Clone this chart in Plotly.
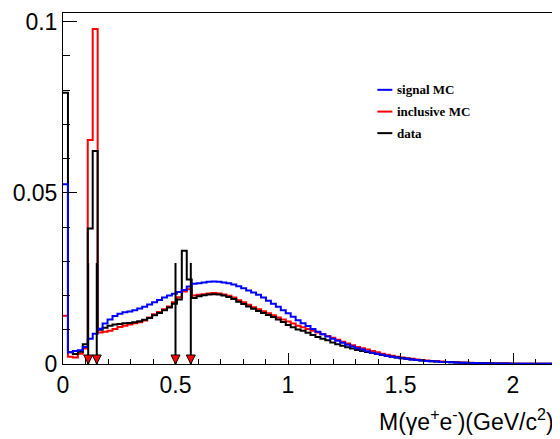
import plotly.graph_objects as go

# 100 bins of width 0.022 on [0, 2.2]
x_min, x_max, n_bins = 0.0, 2.2, 100

signal_mc = [
    0.0525, 0.0034, 0.0038, 0.0040, 0.0050, 0.0074, 0.0088, 0.0103, 0.0118, 0.0130,
    0.0140, 0.0147, 0.0151, 0.0153, 0.0157, 0.0162, 0.0167, 0.0174, 0.0180, 0.0187,
    0.0194, 0.0200, 0.0205, 0.0210, 0.0216, 0.0226, 0.0234, 0.0236, 0.0238, 0.0240,
    0.0241, 0.0240, 0.0238, 0.0236, 0.0232, 0.0227, 0.0221, 0.0215, 0.0209, 0.0202,
    0.0194, 0.0185, 0.0176, 0.0167, 0.0157, 0.0148, 0.0138, 0.0128, 0.0119, 0.0111,
    0.0102, 0.0094, 0.0087, 0.0080, 0.0074, 0.0068, 0.0062, 0.0056, 0.0051, 0.0046,
    0.0042, 0.0037, 0.0033, 0.0030, 0.0027, 0.0024, 0.0021, 0.0019, 0.0017, 0.0015,
    0.0013, 0.0012, 0.0010, 0.0009, 0.0008, 0.0007, 0.0006, 0.00055, 0.0005, 0.00045,
    0.0004, 0.00035, 0.0003, 0.00027, 0.00024, 0.0002, 0.00018, 0.00016, 0.00014, 0.00012,
    0.0001, 0.00009, 0.00008, 0.00007, 0.00006, 0.00005, 0.00005, 0.00004, 0.00004, 0.00003,
]

inclusive_mc = [
    0.0141, 0.0021, 0.0019, 0.0030, 0.0045, 0.0654, 0.0978, 0.0092, 0.0094, 0.0097,
    0.0102, 0.0108, 0.0112, 0.0115, 0.0119, 0.0122, 0.0127, 0.0136, 0.0145, 0.0152,
    0.0160, 0.0168, 0.0180, 0.0195, 0.0212, 0.0218, 0.0200, 0.0202, 0.0204, 0.0206,
    0.0207, 0.0206, 0.0203, 0.0199, 0.0194, 0.0186, 0.0180, 0.0173, 0.0166, 0.0160,
    0.0154, 0.0148, 0.0142, 0.0136, 0.0130, 0.0124, 0.0118, 0.0112, 0.0107, 0.0102,
    0.0097, 0.0092, 0.0087, 0.0082, 0.0077, 0.0071, 0.0065, 0.0060, 0.0055, 0.0050,
    0.0046, 0.0042, 0.0038, 0.0034, 0.0030, 0.0027, 0.0024, 0.0021, 0.0019, 0.0017,
    0.0015, 0.0013, 0.0012, 0.0010, 0.0009, 0.0008, 0.0007, 0.0006, 0.00055, 0.0005,
    0.00045, 0.0004, 0.00035, 0.0003, 0.00027, 0.00024, 0.0002, 0.00018, 0.00016, 0.00014,
    0.00012, 0.0001, 0.00009, 0.00008, 0.00007, 0.00006, 0.00005, 0.00005, 0.00004, 0.00004,
]

data = [
    0.0792, 0.0034, 0.0029, 0.0036, 0.0058, 0.0396, 0.0622, 0.0100, 0.0106, 0.0112,
    0.0115, 0.0117, 0.0119, 0.0120, 0.0122, 0.0125, 0.0129, 0.0134, 0.0142, 0.0149,
    0.0157, 0.0165, 0.0176, 0.0188, 0.0331, 0.0247, 0.0193, 0.0198, 0.0201, 0.0203,
    0.0204, 0.0203, 0.0200, 0.0196, 0.0190, 0.0182, 0.0175, 0.0168, 0.0161, 0.0155,
    0.0149, 0.0143, 0.0137, 0.0130, 0.0123, 0.0114, 0.0107, 0.0101, 0.0097, 0.0091,
    0.0085, 0.0079, 0.0074, 0.0069, 0.0063, 0.0058, 0.0053, 0.0049, 0.0045, 0.0041,
    0.0038, 0.0035, 0.0032, 0.0029, 0.0026, 0.0023, 0.0021, 0.0019, 0.0017, 0.0015,
    0.0013, 0.0012, 0.0010, 0.0009, 0.0008, 0.0007, 0.0006, 0.00055, 0.0005, 0.00045,
    0.0004, 0.00035, 0.0003, 0.00027, 0.00024, 0.0002, 0.00018, 0.00016, 0.00014, 0.00012,
    0.0001, 0.00009, 0.00008, 0.00007, 0.00006, 0.00005, 0.00005, 0.00004, 0.00004, 0.00003,
]

series_names = ["signal MC", "inclusive MC", "data"]
series_colors = ["#0000ff", "#ff0000", "#000000"]

cut_positions = [0.112, 0.150, 0.500, 0.568]
arrow_top = 0.0295

y_range = [0, 0.1025]
y_ticks = [0, 0.05, 0.1]
y_ticklabels = ["0", "0.05", "0.1"]
x_ticks = [0, 0.5, 1, 1.5, 2]
x_ticklabels = ["0", "0.5", "1", "1.5", "2"]
x_title = "M(γe<sup>+</sup>e<sup>-</sup>)(GeV/c<sup>2</sup>)"

bw = (x_max - x_min) / n_bins
edges = [x_min + i * bw for i in range(n_bins + 1)]

# page body has an 8px margin: figure is sized to fill the rest of the 560x439 window
OFF = 8
W, H = 560 - OFF, 439 - OFF
ml, mr, mt, mb = 63 - OFF, 1, 9 - OFF, 75
pw, ph = W - ml - mr, H - mt - mb

def px2paper_x(px):
    return (px - OFF - ml) / pw

def px2paper_y(py):
    return (H - mb - (py - OFF)) / ph

fig = go.Figure()

def step_trace(vals, color, name):
    ys = list(vals) + [vals[-1]]
    return go.Scatter(x=edges, y=ys, mode="lines", line=dict(shape="hv", color=color, width=2),
                      name=name, showlegend=False, hoverinfo="skip")

# draw order: red, black, blue
fig.add_trace(step_trace(inclusive_mc, series_colors[1], series_names[1]))
fig.add_trace(step_trace(data, series_colors[2], series_names[2]))
fig.add_trace(step_trace(signal_mc, series_colors[0], series_names[0]))

# cut arrows
for c in cut_positions:
    fig.add_trace(go.Scatter(x=[c, c], y=[arrow_top, 0], mode="lines",
                             line=dict(color="black", width=2), showlegend=False, hoverinfo="skip"))

shapes = []
for c in cut_positions:
    shapes.append(dict(type="path", xref="x", yref="y", xsizemode="pixel", ysizemode="pixel",
                       xanchor=c, yanchor=0, path="M -4.5,9 L 4.5,9 L 0,0 Z",
                       fillcolor="#ff0000", line=dict(color="black", width=1)))

# legend (manual)
leg_rows_y = [86.7, 108.7, 130.5]
annotations = []
for name, color, ry in zip(series_names, series_colors, leg_rows_y):
    shapes.append(dict(type="line", xref="paper", yref="paper",
                       x0=px2paper_x(378), x1=px2paper_x(393),
                       y0=px2paper_y(ry), y1=px2paper_y(ry),
                       line=dict(color=color, width=2)))
    annotations.append(dict(xref="paper", yref="paper", x=px2paper_x(396), y=px2paper_y(ry),
                            xanchor="left", yanchor="middle", showarrow=False,
                            text="<b>" + name + "</b>",
                            font=dict(family="Liberation Serif", size=13, color="black")))

annotations.append(dict(xref="paper", yref="paper", x=px2paper_x(557), y=px2paper_y(421),
                        xanchor="right", yanchor="middle", showarrow=False, text=x_title,
                        font=dict(family="Liberation Sans", size=23, color="black")))

fig.update_layout(
    width=W, height=H,
    margin=dict(l=ml, r=mr, t=mt, b=mb, pad=0),
    paper_bgcolor="white", plot_bgcolor="white",
    shapes=shapes, annotations=annotations,
    showlegend=False,
    font=dict(family="Liberation Sans", size=23, color="black"),
)
fig.update_xaxes(range=[x_min, x_max], showgrid=False, zeroline=False,
                 showline=True, linecolor="black", linewidth=1, mirror=True,
                 tickmode="array", tickvals=x_ticks, ticktext=x_ticklabels,
                 ticks="inside", ticklen=11, tickcolor="black", tickwidth=1,
                 ticklabeloverflow="allow",
                 minor=dict(dtick=0.1, ticks="inside", ticklen=5, tickcolor="black", tickwidth=1, showgrid=False),
                 tickfont=dict(size=23))
fig.update_yaxes(range=y_range, showgrid=False, zeroline=False,
                 showline=True, linecolor="black", linewidth=1, mirror=True,
                 tickmode="array", tickvals=y_ticks, ticktext=y_ticklabels,
                 ticks="inside", ticklen=14, tickcolor="black", tickwidth=1,
                 ticklabeloverflow="allow",
                 minor=dict(dtick=0.01, ticks="inside", ticklen=7, tickcolor="black", tickwidth=1, showgrid=False),
                 tickfont=dict(size=23))

fig.write_html("out.html")
